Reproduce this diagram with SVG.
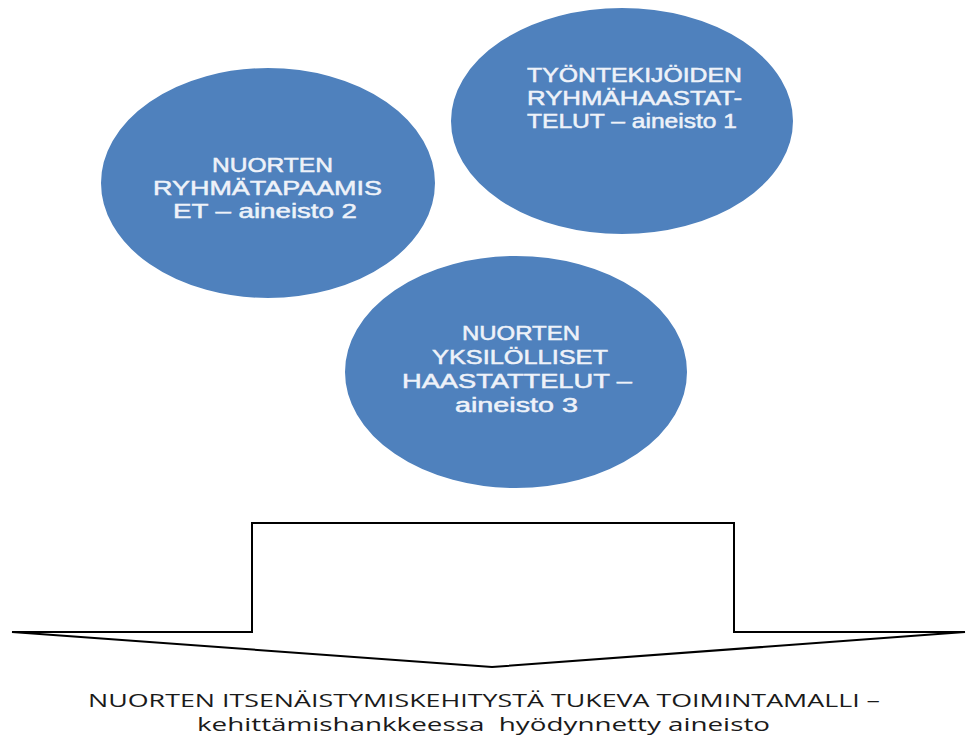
<svg xmlns="http://www.w3.org/2000/svg" width="967" height="755" viewBox="0 0 967 755">
<style>
.bub{fill:#4F81BD;stroke:#ffffff;stroke-width:4}
.bt{font-family:"Liberation Sans",Arial,sans-serif;font-size:20px;fill:#EEF2F9;stroke:#EEF2F9;stroke-width:0.5}
.cap{font-family:"Open Sans","Liberation Sans",Arial,sans-serif;font-size:18px;fill:#1a1a1a;white-space:pre}
.arrow{fill:#ffffff;stroke:#000000;stroke-width:2;stroke-linejoin:miter}
</style>
<rect width="967" height="755" fill="#ffffff"/>
<g id="node-ryhmatapaamiset">
<ellipse class="bub" cx="268" cy="183" rx="169" ry="117"/>
<text class="bt" x="212" y="172" textLength="121" lengthAdjust="spacingAndGlyphs">NUORTEN</text>
<text class="bt" x="153" y="195" textLength="229" lengthAdjust="spacingAndGlyphs">RYHMÄTAPAAMIS</text>
<text class="bt" x="173" y="218" textLength="184" lengthAdjust="spacingAndGlyphs">ET – aineisto 2</text>
</g>
<g id="node-tyontekijat">
<ellipse class="bub" cx="622" cy="121" rx="173" ry="115"/>
<text class="bt" x="527" y="82" textLength="215" lengthAdjust="spacingAndGlyphs">TYÖNTEKIJÖIDEN</text>
<text class="bt" x="527" y="105" textLength="215" lengthAdjust="spacingAndGlyphs">RYHMÄHAASTAT-</text>
<text class="bt" x="527" y="128" textLength="210" lengthAdjust="spacingAndGlyphs">TELUT – aineisto 1</text>
</g>
<g id="node-yksilolliset">
<ellipse class="bub" cx="516" cy="372" rx="173" ry="118"/>
<text class="bt" x="462" y="340" textLength="118" lengthAdjust="spacingAndGlyphs">NUORTEN</text>
<text class="bt" x="432" y="364" textLength="176" lengthAdjust="spacingAndGlyphs">YKSILÖLLISET</text>
<text class="bt" x="402" y="388" textLength="230" lengthAdjust="spacingAndGlyphs">HAASTATTELUT –</text>
<text class="bt" x="455" y="412" textLength="123" lengthAdjust="spacingAndGlyphs">aineisto 3</text>
</g>
<g id="connectors">
<path class="arrow" d="M252,523 L734,523 L734,632 L965,632 L492,667 L12,632 L252,632 Z"/>
</g>
<g id="node-toimintamalli">
<text class="cap" x="88" y="707" textLength="792" lengthAdjust="spacingAndGlyphs">NUORTEN ITSENÄISTYMISKEHITYSTÄ TUKEVA TOIMINTAMALLI –</text>
<text class="cap" x="197" y="731" textLength="573" lengthAdjust="spacingAndGlyphs">kehittämishankkeessa  hyödynnetty aineisto</text>
</g>
</svg>
